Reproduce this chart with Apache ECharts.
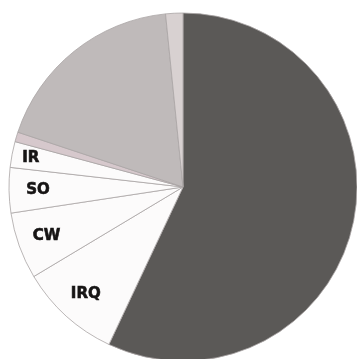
<!DOCTYPE html>
<html>
<head>
<meta charset="utf-8">
<script src="https://cdn.jsdelivr.net/npm/echarts@6/dist/echarts.min.js"></script>
<style>
  html, body { margin: 0; padding: 0; background: #fff; }
  #chart { width: 357px; height: 359px; }
</style>
</head>
<body>
<div id="chart"></div>
<script>
// slices clockwise from 12 o'clock
const sliceNames = ['', 'IRQ', 'CW', 'SO', 'IR', '', '', '']
const sliceValues = [57, 9.4, 6.2, 4.2, 2.4, 0.9, 18.3, 1.6]
const sliceColors = ['#5b5957', '#fcfbfb', '#fcfbfb', '#fcfbfb', '#fcfbfb', '#d6c8cc', '#bfbaba', '#d8d1d1']

// IR sits a bit closer to the rim than the others
const outerLabels = ['IR']

const CENTER = [183, 187]
const RADIUS = 174

const chart = echarts.init(document.getElementById('chart'), null, { renderer: 'canvas' })

const baseData = sliceValues.map((v, i) => ({
  value: v,
  name: sliceNames[i] || ('s' + i),
  itemStyle: { color: sliceColors[i] }
}))

function labelRing (innerR, pick) {
  return {
    type: 'pie',
    center: CENTER,
    radius: [innerR, RADIUS],
    startAngle: 90,
    clockwise: true,
    avoidLabelOverlap: false,
    silent: true,
    itemStyle: { color: 'rgba(0,0,0,0)', borderWidth: 0 },
    label: {
      position: 'inside',
      formatter: '{b}',
      color: '#161414',
      fontFamily: 'DejaVu Sans',
      fontWeight: 'bold',
      fontSize: 15,
      textBorderColor: '#161414',
      textBorderWidth: 0.6
    },
    labelLine: { show: false },
    data: sliceValues.map((v, i) => ({
      value: v,
      name: sliceNames[i] || ('s' + i),
      label: { show: sliceNames[i] !== '' && pick(sliceNames[i]) }
    }))
  }
}

chart.setOption({
  backgroundColor: '#ffffff',
  animation: false,
  series: [
    {
      type: 'pie',
      center: CENTER,
      radius: [0, RADIUS],
      startAngle: 90,
      clockwise: true,
      avoidLabelOverlap: false,
      silent: true,
      label: { show: false },
      labelLine: { show: false },
      itemStyle: { borderColor: '#aaa5a5', borderWidth: 0.8 },
      data: baseData
    },
    labelRing(130, (n) => outerLabels.includes(n)),
    labelRing(110, (n) => !outerLabels.includes(n))
  ]
})
</script>
</body>
</html>
